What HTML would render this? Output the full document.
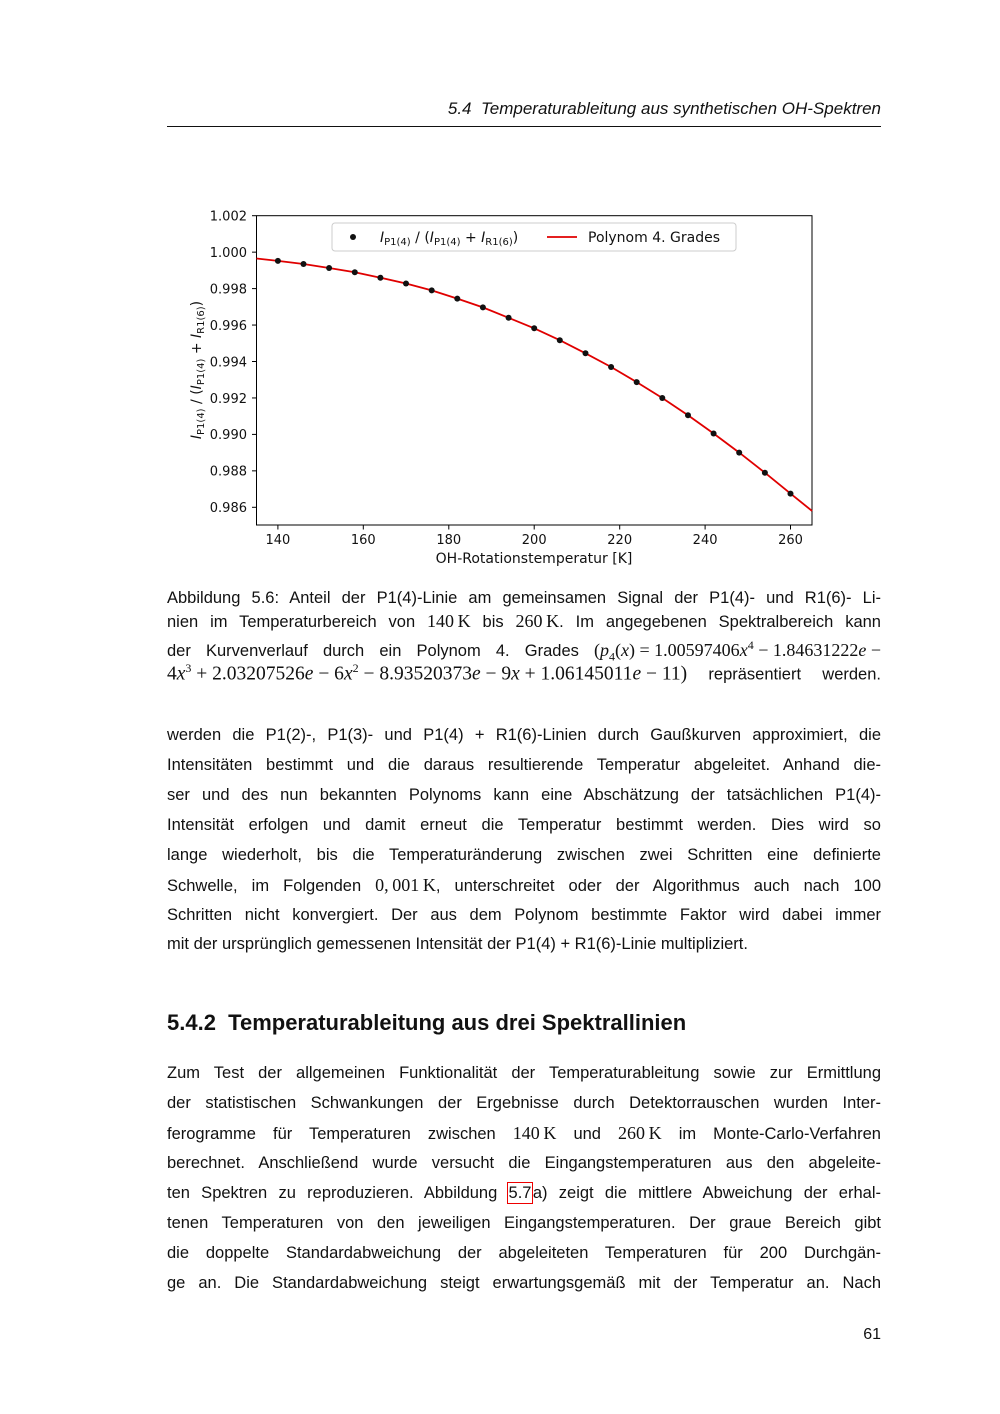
<!DOCTYPE html>
<html><head><meta charset="utf-8"><style>
body{margin:0;background:#fff;}
.pg{position:relative;width:1000px;height:1414px;overflow:hidden;font-family:"Liberation Sans",sans-serif;color:#111;}
.l{position:absolute;left:167px;width:714px;font-size:16.5px;white-space:nowrap;text-align:justify;text-align-last:justify;line-height:20px;}
.m{display:inline-block;font-family:"Liberation Serif",serif;font-size:18px;}
.m sub,.m sup{font-size:12px;}
</style></head><body><div class="pg">
<div style="position:absolute;right:119px;top:99px;font-size:17px;font-style:italic;">5.4&nbsp; Temperaturableitung aus synthetischen OH-Spektren</div>
<div style="position:absolute;left:167px;top:126px;width:714px;height:1.3px;background:#111;"></div>

<svg style="position:absolute;left:0;top:0" width="1000" height="580" font-family="DejaVu Sans, sans-serif" font-size="13">
<rect x="256.5" y="215.7" width="555.5" height="309.3" fill="none" stroke="#000" stroke-width="1"/>
<g stroke="#000">
<line x1="256.5" x2="252" y1="215.7" y2="215.7"/><line x1="256.5" x2="252" y1="252.15" y2="252.15"/><line x1="256.5" x2="252" y1="288.6" y2="288.6"/><line x1="256.5" x2="252" y1="325.05" y2="325.05"/><line x1="256.5" x2="252" y1="361.5" y2="361.5"/><line x1="256.5" x2="252" y1="397.95" y2="397.95"/><line x1="256.5" x2="252" y1="434.4" y2="434.4"/><line x1="256.5" x2="252" y1="470.85" y2="470.85"/><line x1="256.5" x2="252" y1="507.3" y2="507.3"/>
<line x1="277.9" x2="277.9" y1="525" y2="529.5"/><line x1="363.3" x2="363.3" y1="525" y2="529.5"/><line x1="448.8" x2="448.8" y1="525" y2="529.5"/><line x1="534.2" x2="534.2" y1="525" y2="529.5"/><line x1="619.7" x2="619.7" y1="525" y2="529.5"/><line x1="705.1" x2="705.1" y1="525" y2="529.5"/><line x1="790.5" x2="790.5" y1="525" y2="529.5"/>
</g>
<g text-anchor="end" fill="#111">
<text x="247" y="220.5">1.002</text><text x="247" y="257">1.000</text><text x="247" y="293.4">0.998</text><text x="247" y="329.9">0.996</text><text x="247" y="366.3">0.994</text><text x="247" y="402.8">0.992</text><text x="247" y="439.2">0.990</text><text x="247" y="475.7">0.988</text><text x="247" y="512.1">0.986</text>
</g>
<g text-anchor="middle" fill="#111">
<text x="277.9" y="544">140</text><text x="363.3" y="544">160</text><text x="448.8" y="544">180</text><text x="534.2" y="544">200</text><text x="619.7" y="544">220</text><text x="705.1" y="544">240</text><text x="790.5" y="544">260</text>
<text x="534" y="563" font-size="14">OH-Rotationstemperatur [K]</text>
<text transform="translate(201,370) rotate(-90)" font-size="14"><tspan font-style="italic">I</tspan><tspan font-size="10" dy="3">P1(4)</tspan><tspan dy="-3"> / (</tspan><tspan font-style="italic">I</tspan><tspan font-size="10" dy="3">P1(4)</tspan><tspan dy="-3"> + </tspan><tspan font-style="italic">I</tspan><tspan font-size="10" dy="3">R1(6)</tspan><tspan dy="-3">)</tspan></text>
</g>
<polyline fill="none" stroke="#e00000" stroke-width="1.8" points="256.5,258.5 277.9,260.9 303.5,264.0 329.1,268.0 354.8,272.2 380.4,277.7 406.0,283.5 431.7,290.4 457.3,298.6 482.9,307.4 508.6,317.8 534.2,328.3 559.8,340.2 585.5,353.3 611.1,367.0 636.7,382.1 662.3,398.0 688.0,415.3 713.6,433.5 739.2,452.6 764.9,472.7 790.5,493.6 812,510.9"/>
<g fill="#111">
<circle cx="277.9" cy="260.9" r="3"/><circle cx="303.5" cy="264.0" r="3"/><circle cx="329.1" cy="268.0" r="3"/><circle cx="354.8" cy="272.2" r="3"/><circle cx="380.4" cy="277.7" r="3"/><circle cx="406.0" cy="283.5" r="3"/><circle cx="431.7" cy="290.4" r="3"/><circle cx="457.3" cy="298.6" r="3"/><circle cx="482.9" cy="307.4" r="3"/><circle cx="508.6" cy="317.8" r="3"/><circle cx="534.2" cy="328.3" r="3"/><circle cx="559.8" cy="340.2" r="3"/><circle cx="585.5" cy="353.3" r="3"/><circle cx="611.1" cy="367.0" r="3"/><circle cx="636.7" cy="382.1" r="3"/><circle cx="662.3" cy="398.0" r="3"/><circle cx="688.0" cy="415.3" r="3"/><circle cx="713.6" cy="433.5" r="3"/><circle cx="739.2" cy="452.6" r="3"/><circle cx="764.9" cy="472.7" r="3"/><circle cx="790.5" cy="493.6" r="3"/>
</g>
<rect x="332" y="223" width="404" height="28" rx="3" fill="#fff" fill-opacity="0.85" stroke="#ccc"/>
<circle cx="353" cy="237" r="3" fill="#111"/>
<text x="380" y="242" fill="#111" font-size="14"><tspan font-style="italic">I</tspan><tspan font-size="10" dy="3">P1(4)</tspan><tspan dy="-3"> / (</tspan><tspan font-style="italic">I</tspan><tspan font-size="10" dy="3">P1(4)</tspan><tspan dy="-3"> + </tspan><tspan font-style="italic">I</tspan><tspan font-size="10" dy="3">R1(6)</tspan><tspan dy="-3">)</tspan></text>
<line x1="547" x2="577" y1="237" y2="237" stroke="#e00000" stroke-width="1.8"/>
<text x="588" y="242" fill="#111" font-size="14">Polynom 4. Grades</text>
</svg>

<div class="l" style="top:588px">Abbildung 5.6: Anteil der P1(4)-Linie am gemeinsamen Signal der P1(4)- und R1(6)- Li-</div>
<div class="l" style="top:611px">nien im Temperaturbereich von <span class="m">140&#8201;K</span> bis <span class="m">260&#8201;K</span>. Im angegebenen Spektralbereich kann</div>
<div class="l" style="top:635px">der Kurvenverlauf durch ein Polynom 4. Grades <span class="m">(<i>p</i><sub>4</sub>(<i>x</i>) = 1.00597406<i>x</i><sup>4</sup> − 1.84631222<i>e</i> −</span></div>
<div class="l" style="top:658px"><span class="m" style="font-size:19.5px">4<i>x</i><sup>3</sup> + 2.03207526<i>e</i> − 6<i>x</i><sup>2</sup> − 8.93520373<i>e</i> − 9<i>x</i> + 1.06145011<i>e</i> − 11)</span> repräsentiert werden.</div>

<div class="l" style="top:725px">werden die P1(2)-, P1(3)- und P1(4) + R1(6)-Linien durch Gaußkurven approximiert, die</div>
<div class="l" style="top:755px">Intensitäten bestimmt und die daraus resultierende Temperatur abgeleitet. Anhand die-</div>
<div class="l" style="top:785px">ser und des nun bekannten Polynoms kann eine Abschätzung der tatsächlichen P1(4)-</div>
<div class="l" style="top:815px">Intensität erfolgen und damit erneut die Temperatur bestimmt werden. Dies wird so</div>
<div class="l" style="top:845px">lange wiederholt, bis die Temperaturänderung zwischen zwei Schritten eine definierte</div>
<div class="l" style="top:875px">Schwelle, im Folgenden <span class="m">0,&#8201;001&#8201;K</span>, unterschreitet oder der Algorithmus auch nach 100</div>
<div class="l" style="top:905px">Schritten nicht konvergiert. Der aus dem Polynom bestimmte Faktor wird dabei immer</div>
<div class="l" style="top:934px;text-align-last:left">mit der ursprünglich gemessenen Intensität der P1(4) + R1(6)-Linie multipliziert.</div>

<div style="position:absolute;left:167px;top:1010px;font-size:22px;font-weight:bold;">5.4.2&nbsp; Temperaturableitung aus drei Spektrallinien</div>

<div class="l" style="top:1063px">Zum Test der allgemeinen Funktionalität der Temperaturableitung sowie zur Ermittlung</div>
<div class="l" style="top:1093px">der statistischen Schwankungen der Ergebnisse durch Detektorrauschen wurden Inter-</div>
<div class="l" style="top:1123px">ferogramme für Temperaturen zwischen <span class="m">140&#8201;K</span> und <span class="m">260&#8201;K</span> im Monte-Carlo-Verfahren</div>
<div class="l" style="top:1153px">berechnet. Anschließend wurde versucht die Eingangstemperaturen aus den abgeleite-</div>
<div class="l" style="top:1183px">ten Spektren zu reproduzieren. Abbildung <span style="outline:1px solid #e00;outline-offset:1px;">5.7</span>&#8202;a) zeigt die mittlere Abweichung der erhal-</div>
<div class="l" style="top:1213px">tenen Temperaturen von den jeweiligen Eingangstemperaturen. Der graue Bereich gibt</div>
<div class="l" style="top:1243px">die doppelte Standardabweichung der abgeleiteten Temperaturen für 200 Durchgän-</div>
<div class="l" style="top:1273px">ge an. Die Standardabweichung steigt erwartungsgemäß mit der Temperatur an. Nach</div>

<div style="position:absolute;right:119px;top:1326px;font-size:16px;">61</div>
</div></body></html>
